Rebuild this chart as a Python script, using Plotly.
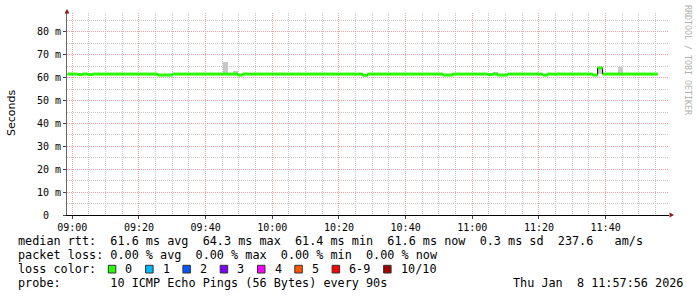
import plotly.graph_objects as go
import pandas as pd

# ---------------- data ----------------
step_start = "2026-01-08 08:58:36"   # first 90 s step
step_seconds = 90

# median rtt (ms) per 90 s step
median_ms = [
    61.6, 61.6, 61.4, 61.6, 61.4, 61.6, 61.6, 61.6, 61.6, 61.6,
    61.6, 61.6, 61.6, 61.6, 61.6, 61.6, 61.6, 61.6, 61.2, 61.2,
    61.2, 61.6, 61.6, 61.6, 61.6, 61.6, 61.6, 61.6, 61.6, 61.6,
    61.6, 61.6, 61.6, 61.6, 61.2, 61.6, 61.6, 61.6, 61.6, 61.6,
    61.6, 61.6, 61.6, 61.6, 61.6, 61.6, 61.6, 61.6, 61.6, 61.6,
    61.6, 61.6, 61.6, 61.6, 61.6, 61.6, 61.6, 61.6, 61.6, 61.1,
    61.6, 61.6, 61.6, 61.6, 61.6, 61.6, 61.6, 61.6, 61.6, 61.6,
    61.6, 61.6, 61.6, 61.6, 61.6, 61.2, 61.2, 61.6, 61.6, 61.6,
    61.6, 61.6, 61.6, 61.6, 61.4, 61.6, 61.2, 61.2, 61.6, 61.6,
    61.6, 61.6, 61.6, 61.6, 61.6, 61.2, 61.6, 61.6, 61.6, 61.6,
    61.6, 61.6, 61.6, 61.6, 61.6, 61.2, 64.3, 61.6, 61.6, 61.6,
    61.6, 61.6, 61.6, 61.6, 61.6, 61.6, 61.6, 61.6,
]

# smoke (ping spread) for steps with visible spread
smoke_start = ["2026-01-08 09:45:06", "2026-01-08 09:48:06", "2026-01-08 11:06:06",
               "2026-01-08 11:37:36", "2026-01-08 11:43:36"]
smoke_low = [61.6, 61.6, 61.6, 61.6, 61.6]
smoke_high = [66.9, 62.95, 62.5, 64.3, 64.7]

x_tick_vals = ["2026-01-08 09:00", "2026-01-08 09:20", "2026-01-08 09:40", "2026-01-08 10:00",
               "2026-01-08 10:20", "2026-01-08 10:40", "2026-01-08 11:00", "2026-01-08 11:20",
               "2026-01-08 11:40"]
x_tick_text = ["09:00", "09:20", "09:40", "10:00", "10:20", "10:40", "11:00", "11:20", "11:40"]
y_tick_vals = [0, 10, 20, 30, 40, 50, 60, 70, 80]
y_tick_text = ["0\u00a0\u00a0", "10 m", "20 m", "30 m", "40 m", "50 m", "60 m", "70 m", "80 m"]

loss_labels = ["0", "1", "2", "3", "4", "5", "6-9", "10/10"]
loss_colors = ["#26ff00", "#00b8ff", "#0059ff", "#7e00ff", "#ff00ff", "#ff5500", "#ff0000", "#a00000"]

legend_lines = [
    "median rtt:  61.6 ms avg  64.3 ms max  61.4 ms min  61.6 ms now  0.3 ms sd  237.6   am/s",
    "packet loss: 0.00 % avg  0.00 % max  0.00 % min  0.00 % now",
    "loss color:",
    "probe:       10 ICMP Echo Pings (56 Bytes) every 90s",
]
date_text = "Thu Jan  8 11:57:56 2026"

# ---------------- geometry ----------------
W, H = 697, 297
PX0, PX1, PY0, PY1 = 67, 669, 13, 215     # plot area in pixels
x_range = ["2026-01-08 08:58:24.6", "2026-01-08 11:59:00.6"]
y_range = [0, 88.3]


def px(xp):
    return (xp - PX0) / (PX1 - PX0)


def py(yp):
    return (PY1 - yp) / (PY1 - PY0)


MONO = "DejaVu Sans Mono"

# ---------------- traces ----------------
t0 = pd.Timestamp(step_start)
step = pd.Timedelta(seconds=step_seconds)
edges = [t0 + i * step for i in range(len(median_ms) + 1)]

fig = go.Figure()

# smoke
s_start = pd.to_datetime(smoke_start)
fig.add_trace(go.Bar(
    x=[s + step / 2 for s in s_start],
    base=smoke_low,
    y=[h - l for h, l in zip(smoke_high, smoke_low)],
    width=step_seconds * 1000,
    marker=dict(color="#c8c8c8", line=dict(width=0)),
    hoverinfo="skip", showlegend=False,
))

# black median step line
fig.add_trace(go.Scatter(
    x=edges, y=median_ms + [median_ms[-1]],
    mode="lines", line=dict(color="#000000", width=1, shape="hv"),
    hoverinfo="skip", showlegend=False,
))

# green (loss colour) median segments
gx, gy = [], []
for i, m in enumerate(median_ms):
    gx += [edges[i], edges[i + 1], None]
    gy += [m, m, None]
fig.add_trace(go.Scatter(
    x=gx, y=gy, mode="lines", line=dict(color=loss_colors[0], width=3),
    connectgaps=False, hoverinfo="skip", showlegend=False,
))

# ---------------- layout ----------------
major_grid = "#eba3a3"
minor_grid = "#c8c8c8"

fig.update_layout(
    width=W, height=H,
    margin=dict(l=PX0, r=W - PX1, t=PY0, b=H - PY1, pad=0),
    paper_bgcolor="white", plot_bgcolor="white",
    barmode="overlay", bargap=0,
    showlegend=False,
    xaxis=dict(
        type="date", range=x_range,
        tickmode="array", tickvals=x_tick_vals, ticktext=x_tick_text,
        tickfont=dict(family=MONO, size=10, color="#000"),
        ticklabelstandoff=0,
        showgrid=True, gridcolor=major_grid, griddash="1px,1px", gridwidth=1,
        minor=dict(tickmode="linear", tick0="2026-01-08 09:00", dtick=300000,
                   showgrid=True, gridcolor=minor_grid, griddash="1px,1px", gridwidth=1, ticks=""),
        showline=True, linecolor="#000", linewidth=1,
        ticks="outside", ticklen=3, tickcolor="#444", tickwidth=1,
        zeroline=False, fixedrange=True,
    ),
    yaxis=dict(
        range=y_range,
        tickmode="array", tickvals=y_tick_vals, ticktext=y_tick_text,
        tickfont=dict(family=MONO, size=10, color="#000"),
        showgrid=True, gridcolor=major_grid, griddash="1px,1px", gridwidth=1,
        minor=dict(tickmode="linear", tick0=0, dtick=5,
                   showgrid=True, gridcolor=minor_grid, griddash="1px,1px", gridwidth=1, ticks=""),
        showline=True, linecolor="#666", linewidth=1,
        ticks="outside", ticklen=3, tickcolor="#444", tickwidth=1,
        zeroline=False, fixedrange=True,
    ),
    font=dict(family=MONO, color="#000"),
)

shapes = []
# axis arrows
arrow_col = "#8b1a1a"
shapes.append(dict(type="path", xref="paper", yref="paper",
                   path=f"M {px(64.5)} {py(13.5)} L {px(67)} {py(9)} L {px(69.5)} {py(13.5)} Z",
                   fillcolor=arrow_col, line=dict(width=0)))
shapes.append(dict(type="path", xref="paper", yref="paper",
                   path=f"M {px(669.5)} {py(212.5)} L {px(674)} {py(215)} L {px(669.5)} {py(217.5)} Z",
                   fillcolor=arrow_col, line=dict(width=0)))

annotations = []
CH = 7.1          # monospace char advance (px)
LX = 16           # legend left
line_y = [241.5, 255, 269, 282.5]
for txt, yy in zip(legend_lines, line_y):
    annotations.append(dict(xref="paper", yref="paper", x=px(LX), y=py(yy),
                            xanchor="left", yanchor="middle", showarrow=False,
                            text=txt.replace(" ", "\u00a0"),
                            font=dict(family=MONO, size=11.8, color="#000")))
annotations.append(dict(xref="paper", yref="paper", x=px(511), y=py(line_y[3]),
                        xanchor="left", yanchor="middle", showarrow=False,
                        text=date_text.replace(" ", "\u00a0"),
                        font=dict(family=MONO, size=11.8, color="#000")))

# loss colour boxes
bx = 108.3
for lab, col in zip(loss_labels, loss_colors):
    shapes.append(dict(type="rect", xref="paper", yref="paper",
                       x0=px(bx), x1=px(bx + 7.5), y0=py(273), y1=py(265.3),
                       fillcolor=col, line=dict(color="#333", width=1)))
    annotations.append(dict(xref="paper", yref="paper", x=px(bx + 15), y=py(line_y[2]),
                            xanchor="left", yanchor="middle", showarrow=False,
                            text=lab, font=dict(family=MONO, size=11.8, color="#000")))
    bx = bx + 15 + len(lab) * CH + 15.2

# y title
annotations.append(dict(xref="paper", yref="paper", x=px(11), y=py(113),
                        xanchor="center", yanchor="middle", showarrow=False,
                        text="Seconds", textangle=-90,
                        font=dict(family="DejaVu Sans", size=11, color="#000")))
# credit
annotations.append(dict(xref="paper", yref="paper", x=px(688), y=py(60),
                        xanchor="center", yanchor="middle", showarrow=False,
                        text="RRDTOOL / TOBI OETIKER", textangle=90,
                        font=dict(family=MONO, size=8.3, color="#b0b0b0")))

fig.update_layout(shapes=shapes, annotations=annotations)

fig.write_html("out.html")
